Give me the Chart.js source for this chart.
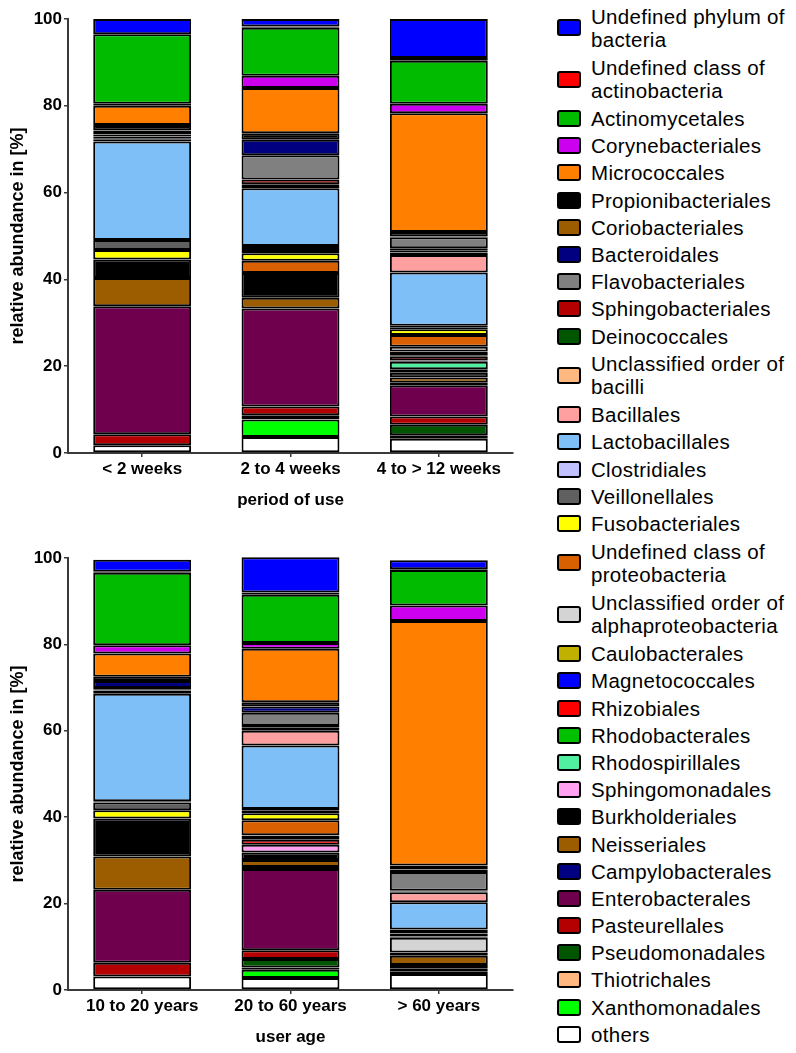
<!DOCTYPE html>
<html>
<head>
<meta charset="utf-8">
<script src="https://cdn.jsdelivr.net/npm/chart.js@4.4.1/dist/chart.umd.min.js"></script>
<style>
body { margin: 0; background: #fff; width: 796px; height: 1053px; position: relative; overflow: hidden; font-family: "Liberation Sans", Arial, sans-serif; }
#top { position: absolute; left: 0; top: 0; }
#bottom { position: absolute; left: 0; top: 530px; }
#legend { position: absolute; left: 557px; top: 2px; }
.item { display: flex; align-items: center; height: 27.2px; }
.item.two { height: 51.5px; }
.box { width: 20px; height: 13px; border: 2.5px solid #000; border-radius: 3px; margin-right: 10px; flex: none; }
.txt { font-size: 20.5px; letter-spacing: 0.3px; line-height: 23px; white-space: pre; color: #000; }
</style>
</head>
<body>
<canvas id="top" width="540" height="525"></canvas>
<canvas id="bottom" width="540" height="523"></canvas>
<div id="legend"></div>
<script>
// legend order, top to bottom (stack is drawn bottom-up, so reversed)
const taxa = [
    'Undefined phylum of\nbacteria', 'Undefined class of\nactinobacteria', 'Actinomycetales',
    'Corynebacteriales', 'Micrococcales', 'Propionibacteriales', 'Coriobacteriales',
    'Bacteroidales', 'Flavobacteriales', 'Sphingobacteriales', 'Deinococcales',
    'Unclassified order of\nbacilli', 'Bacillales', 'Lactobacillales', 'Clostridiales',
    'Veillonellales', 'Fusobacteriales', 'Undefined class of\nproteobacteria',
    'Unclassified order of\nalphaproteobacteria', 'Caulobacterales', 'Magnetococcales',
    'Rhizobiales', 'Rhodobacterales', 'Rhodospirillales', 'Sphingomonadales',
    'Burkholderiales', 'Neisseriales', 'Campylobacterales', 'Enterobacterales',
    'Pasteurellales', 'Pseudomonadales', 'Thiotrichales', 'Xanthomonadales', 'others'
];
const colors = [
    '#0000ff', '#ff0000', '#00bb00', '#cc00ee', '#ff8000', '#000000', '#9c5c00',
    '#000080', '#808080', '#b40000', '#005500', '#ffb880', '#ffa0a0', '#7fbff7',
    '#c0c0ff', '#606060', '#ffff00', '#d86000', '#d4d4d4', '#c0b000', '#0000ff',
    '#ff0000', '#00c000', '#50f0a0', '#ffa0f0', '#000000', '#9c5c00', '#000080',
    '#6e004e', '#b40000', '#005500', '#ffb880', '#00ff00', '#ffffff'
];

const periodLabels = ['< 2 weeks', '2 to 4 weeks', '4 to > 12 weeks'];
const ageLabels = ['10 to 20 years', '20 to 60 years', '> 60 years'];
const yTicks = [0, 20, 40, 60, 80, 100];

// relative abundance [%], one row per taxon (same order as taxa)
const periodOfUse = [
    [3.5, 1.7, 9.0], [0, 0.3, 0.6], [16.0, 11.1, 9.9], [0.5, 2.8, 2.2], [4.4, 10.4, 27.4],
    [1.3, 1.5, 1.0], [0, 0, 0], [0.9, 3.6, 0.2], [0.5, 5.6, 2.5], [0.3, 1.1, 0.6],
    [0.1, 0.4, 0.4], [0.2, 0.2, 0.6], [0.5, 0.3, 4.0], [22.7, 13.3, 12.3], [0, 0.9, 0.3],
    [2.3, 0.8, 0.5], [2.2, 1.7, 1.3], [0, 2.8, 2.7], [0, 0, 1.1], [0, 0, 0.9],
    [0, 0, 0.2], [0, 0, 1.0], [0, 0, 0.3], [0, 0, 1.7], [0, 0, 0.8],
    [4.3, 5.7, 1.1], [6.5, 2.5, 1.2], [0, 0, 0.6], [29.5, 22.6, 7.2], [2.5, 2.0, 1.9],
    [0, 0.9, 2.4], [0, 0.1, 0.4], [0, 4.0, 0.4], [1.8, 3.7, 3.3]
];
const userAge = [
    [2.8, 8.2, 2.1], [0.2, 0.5, 0.2], [16.8, 11.2, 8.2], [1.9, 1.3, 3.6], [5.4, 12.4, 56.6],
    [1.0, 1.0, 0.9], [0, 0, 0], [1.6, 1.4, 0.6], [0.4, 3.1, 4.3], [0.2, 0.4, 0.2],
    [0.1, 0.3, 0.2], [0.2, 0.4, 0], [0.4, 3.4, 2.3], [24.9, 14.7, 6.3], [0.3, 0.3, 0],
    [1.8, 0.7, 0.9], [1.9, 1.6, 0.7], [0, 3.5, 0.3], [0, 0.1, 3.4], [0, 0.9, 0],
    [0, 0, 0], [0, 1.2, 0], [0, 0, 0], [0, 0, 0], [0, 1.8, 0],
    [8.8, 1.7, 0.8], [7.7, 1.6, 2.1], [0, 0.5, 0], [16.9, 18.8, 0.9], [3.2, 2.0, 0.7],
    [0, 2.0, 0.5], [0, 0.5, 0], [0, 1.9, 0], [3.1, 2.8, 3.7]
];

const fontFamily = '"Liberation Sans", Arial, sans-serif';
const axisColor = '#3a3a3a';

function buildDatasets(rows) {
    const sets = [];
    for (let i = taxa.length - 1; i >= 0; i--) {
        sets.push({
            label: taxa[i].replace('\n', ' '),
            data: rows[i],
            backgroundColor: colors[i],
            borderColor: '#000',
            borderWidth: 2,
            borderSkipped: false,
            barPercentage: 0.66,
            categoryPercentage: 1,
            clip: false
        });
    }
    return sets;
}

function makeChart(id, labels, rows, xTitle, padTop, xHeight, titlePad) {
    new Chart(document.getElementById(id), {
        type: 'bar',
        data: { labels: labels, datasets: buildDatasets(rows) },
        options: {
            responsive: false,
            animation: false,
            devicePixelRatio: 1,
            layout: { padding: { top: padTop, right: 27, left: 0, bottom: 0 } },
            plugins: { legend: { display: false }, tooltip: { enabled: false } },
            scales: {
                x: {
                    stacked: true,
                    grid: { drawOnChartArea: false, tickLength: 4, offset: false, color: axisColor, lineWidth: 1.5 },
                    border: { color: axisColor, width: 2 },
                    ticks: { color: '#000', padding: 2, maxRotation: 0, font: { family: fontFamily, size: 17, weight: 'bold' } },
                    title: {
                        display: true, text: xTitle, color: '#000',
                        font: { family: fontFamily, size: 17, weight: 'bold' },
                        padding: { top: 0, bottom: titlePad }
                    },
                    afterFit: function(scale) { scale.height = xHeight; }
                },
                y: {
                    stacked: true,
                    min: 0,
                    max: 100,
                    grid: { drawOnChartArea: false, tickLength: 4, color: axisColor, lineWidth: 1.5 },
                    border: { color: axisColor, width: 2 },
                    ticks: { color: '#000', padding: 2, font: { family: fontFamily, size: 17, weight: 'bold' } },
                    afterBuildTicks: function(scale) {
                        scale.ticks = yTicks.map(function(v) { return { value: v }; });
                    },
                    title: {
                        display: true, text: 'relative abundance in [%]', color: '#000',
                        font: { family: fontFamily, size: 18, weight: 'bold' },
                        padding: { top: 7, bottom: 0 }
                    },
                    afterFit: function(scale) { scale.width = 68; }
                }
            }
        }
    });
}

makeChart('top', periodLabels, periodOfUse, 'period of use', 19, 72, 14.8);
makeChart('bottom', ageLabels, userAge, 'user age', 28, 63, 5.8);

// legend
const legend = document.getElementById('legend');
taxa.forEach(function(name, i) {
    const item = document.createElement('div');
    item.className = name.indexOf('\n') >= 0 ? 'item two' : 'item';
    const box = document.createElement('div');
    box.className = 'box';
    box.style.background = colors[i];
    const txt = document.createElement('div');
    txt.className = 'txt';
    txt.textContent = name;
    item.appendChild(box);
    item.appendChild(txt);
    legend.appendChild(item);
});
</script>
</body>
</html>
